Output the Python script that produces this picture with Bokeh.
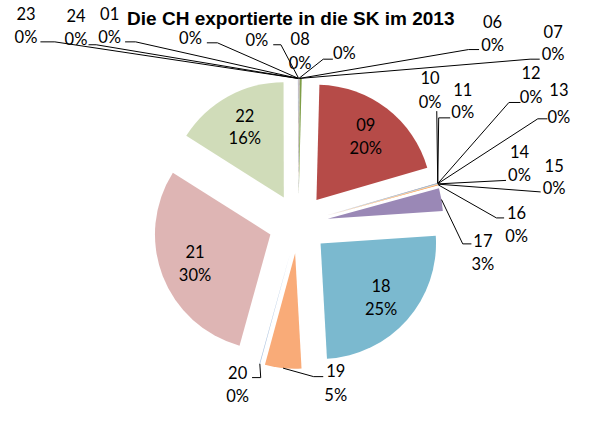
import math
from bokeh.plotting import figure
from bokeh.models import Range1d, Label
from bokeh.embed import file_html
from bokeh.resources import INLINE
from bokeh.core.properties import value

# ---------------- data ----------------
title_text = "Die CH exportierte  in die SK im 2013"
categories = ["01", "02", "03", "04", "05", "06", "07", "08", "09", "10", "11", "12",
              "13", "14", "15", "16", "17", "18", "19", "20", "21", "22", "23", "24"]
shares = [0.02, 0.02, 0.02, 0.02, 0.02, 0.03, 0.03, 0.25, 20.1, 0.02, 0.02, 0.02,
          0.02, 0.03, 0.03, 0.12, 3.2, 25.2, 5.1, 0.1, 29.7, 16.0, 0.02, 0.02]

# ---------------- styles ----------------
colors = ["#4F81BD", "#C0504D", "#9BBB59", "#8064A2", "#4BACC6", "#F79646",
          "#2C4D75", "#7F9E48", "#B64B48", "#5F4B7A", "#2F8AA3", "#B65708",
          "#95B3D7", "#D99694", "#C3D69B", "#F79646", "#9A88B6", "#7BB9CF",
          "#F9AB78", "#A7C0DE", "#DEB5B4", "#D0DCB9", "#8EB4E3", "#E6B9B8"]

W, H = 573, 405
REF_W, REF_H = 589, 421
S = H / REF_H                      # reference px -> screen px
X0 = -3.5
CX, CY = 306.0, 232.0              # pie centre (reference px, y down)
R = 120.0                          # radius
D = 31.0                           # explosion distance
FONT = "Lato"
FS = 16.5
LINE = 24.0

def Y(y):
    return REF_H - y

# label layout for outside labels: text x, number y, percent y, leader knee points
outside = {
    "23": (23, 14, 38, [(38, 43), (53, 43)]),
    "24": (75, 16, 40, [(88, 46), (96, 46)]),
    "01": (110, 14, 38, [(126, 43), (137, 43)]),
    "02": (194, None, 39, [(211, 44), (222, 44)]),
    "03": (263, None, 41, [(280, 46), (288, 46)]),
    "04": (354, None, 55, [(342, 61), (332, 61)]),
    "06": (508, 22, 46, [(494, 51), (483, 51)]),
    "07": (571, 32, 56, [(557, 61), (547, 61)]),
    "08": (308, 40, 65, None),
    "10": (443, 80, 105, [(450, 115)]),
    "11": (477, 92, 116, [(464, 122), (452, 122)]),
    "12": (548, 75, 100, [(537, 106), (525, 106)]),
    "13": (577, 93, 121, [(565, 123), (555, 123)]),
    "14": (536, 157, 181, [(522, 187)]),
    "15": (572, 171, 195, [(558, 199)]),
    "16": (533, 220, 245, [(520, 226), (512, 226)]),
    "17": (498, 250, 274, [(486, 253), (477, 253)]),
    "19": (345, 385, 410, [(332, 391), (322, 391)]),
    "20": (243, 387, 411, [(258, 392), (267, 392)]),
}

p = figure(width=W, height=H, output_backend="svg", toolbar_location=None,
           x_range=Range1d(X0, X0 + W / S), y_range=Range1d(0, REF_H),
           x_axis_type=None, y_axis_type=None, min_border=0,
           background_fill_color="white", border_fill_color="white")
p.outline_line_color = None
p.xgrid.visible = False
p.ygrid.visible = False

total = sum(shares)
cum = 0.0
wx, wy, sa, ea, wc = [], [], [], [], []
in_x, in_y, in_t = [], [], []
lx, ly, lt = [], [], []
mxs, mys = [], []
for cat, v, col in zip(categories, shares, colors):
    a0 = cum / total * 2 * math.pi
    a1 = (cum + v) / total * 2 * math.pi
    cum += v
    mid = (a0 + a1) / 2
    ax = CX + D * math.sin(mid)
    ay = Y(CY) + D * math.cos(mid)
    wx.append(ax); wy.append(ay)
    sa.append(math.pi / 2 - a1); ea.append(math.pi / 2 - a0); wc.append(col)
    pct = f"{round(v / total * 100)}%"
    if v / total >= 0.1:
        tx = ax + 0.7 * R * math.sin(mid)
        ty = ay + 0.7 * R * math.cos(mid)
        in_x += [tx, tx]; in_y += [ty + LINE / 2, ty - LINE / 2]; in_t += [cat, pct]
    elif cat in outside:
        tx, ny, py, lead = outside[cat]
        if ny is not None:
            lx.append(tx); ly.append(Y(ny)); lt.append(cat)
        lx.append(tx); ly.append(Y(py)); lt.append(pct)
        if lead:
            ox = ax + R * math.sin(mid)
            oy = ay + R * math.cos(mid)
            mxs.append([q[0] for q in lead] + [ox])
            mys.append([Y(q[1]) for q in lead] + [oy])

p.wedge(x=wx, y=wy, radius=R, start_angle=sa, end_angle=ea, direction="anticlock",
        fill_color=wc, line_color=None)
p.multi_line(xs=mxs, ys=mys, line_color="black", line_width=1)

p.text(x=in_x, y=in_y, text=in_t, text_align="center", text_baseline="middle",
       text_font=value(FONT), text_font_size=value(f"{FS}px"), text_color="black")
p.text(x=lx, y=ly, text=lt, text_align="center", text_baseline="middle",
       text_font=value(FONT), text_font_size=value(f"{FS}px"), text_color="black")

title = Label(x=301, y=Y(19), text=title_text, text_align="center", text_baseline="middle",
              text_font="Liberation Sans", text_font_style="bold", text_font_size="19px",
              text_color="black", background_fill_color="white")
p.add_layout(title)

open("out.html", "w").write(file_html(p, INLINE))
